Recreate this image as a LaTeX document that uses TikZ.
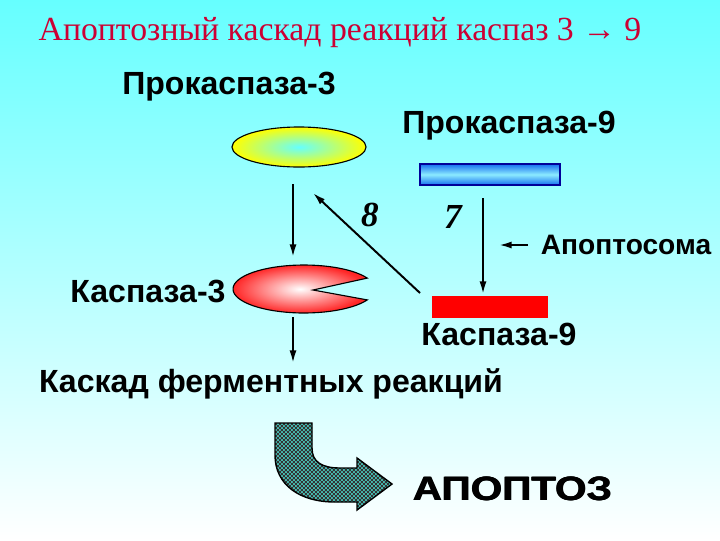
\documentclass[tikz,border=0pt]{standalone}
\usepackage{fontspec}
\setmainfont{Liberation Serif}
\setsansfont{Liberation Sans}
\newfontfamily\blackfont[FakeStretch=1.2]{Liberation Sans}
\usetikzlibrary{arrows.meta,shapes.geometric,patterns,positioning}

\definecolor{titlered}{RGB}{204,0,51}
\definecolor{bgcyan}{RGB}{102,255,255}
\definecolor{bluedark}{RGB}{20,110,240}
\definecolor{bluelight}{RGB}{140,235,255}
\definecolor{arrteal}{RGB}{70,185,175}

\pgfdeclarepatternformonly{finecheck}{\pgfqpoint{0pt}{0pt}}{\pgfqpoint{2.8pt}{2.8pt}}{\pgfqpoint{2.8pt}{2.8pt}}{
  \pgfpathrectangle{\pgfqpoint{0pt}{0pt}}{\pgfqpoint{1.4pt}{1.4pt}}
  \pgfpathrectangle{\pgfqpoint{1.4pt}{1.4pt}}{\pgfqpoint{1.4pt}{1.4pt}}
  \pgfusepath{fill}
}

\newcommand{\heavytext}[1]{\rlap{\kern0.7pt #1}\rlap{\kern0.35pt #1}#1}

\tikzset{
  lbl/.style={font=\sffamily\bfseries\fontsize{22.8}{26}\selectfont, inner sep=0pt},
  num/.style={font=\bfseries\itshape\fontsize{25}{28}\selectfont, inner sep=0pt},
  arr/.style={-{Latex[length=9pt,width=5pt]}, line width=1.4pt},
}

\begin{document}
\begin{tikzpicture}[x=0.025cm,y=-0.025cm]
  \shade[top color=bgcyan, bottom color=white] (0,0) rectangle (720,540);
  \useasboundingbox (0,0) rectangle (720,540);

  % title
  \node[titlered, font=\fontsize{24}{28}\selectfont, inner sep=0pt] (title) at (340,33)
    {Апоптозный каскад реакций каспаз 3 → 9};

  % proteins
  \node[ellipse, draw, line width=0.8pt, minimum width=3.35cm, minimum height=1cm,
        inner color=cyan!60, outer color=yellow] (pro3) at (299,147) {};
  \node[draw=blue!60!black, line width=0.8pt, minimum width=3.5cm, minimum height=0.525cm,
        top color=bluedark, bottom color=bluedark, middle color=bluelight] (pro9) at (490,174.5) {};
  \node[fill=red, inner sep=0pt, minimum width=2.875cm, minimum height=0.55cm] (casp9) at (490,307) {};
  \shade[inner color=white, outer color=red!85, draw=black, line width=0.8pt]
    (313,290) -- plot[domain=27:333, samples=60] ({304+71*cos(\x)},{289+24*sin(\x)}) -- cycle;
  \coordinate (casp3) at (304,289);

  % labels
  \begin{scope}[every node/.style={lbl}]
    \node (pro3lbl) at (229,87)  {Прокаспаза-3};
    \node (pro9lbl) at (509,126) {Прокаспаза-9};
    \node[font=\sffamily\bfseries\fontsize{20}{24}\selectfont] (apslbl) at (626,245) {Апоптосома};
    \node (c3lbl)   at (148,291) {Каспаза-3};
    \node (c9lbl)   at (499,334) {Каспаза-9};
    \node (cascade) at (271,384) {Каскад ферментных реакций};
  \end{scope}
  \node[num] (n8) at (370,215) {8};
  \node[num] (n7) at (453,217) {7};
  \node[font=\blackfont\bfseries\fontsize{24}{28}\selectfont, inner sep=0pt] (apop) at (512,489)
    {\heavytext{АПОПТОЗ}};

  % arrow ends
  \coordinate (p3out)  at (293,184);
  \coordinate (c3in)   at (293,257);
  \coordinate (c3out)  at (293,317);
  \coordinate (casin)  at (293,363);
  \coordinate (c9back) at (420,293);
  \coordinate (p3back) at (313,193);
  \coordinate (p9out)  at (483,198);
  \coordinate (c9in)   at (483,294);
  \coordinate (apsout) at (528,245);
  \coordinate (apsin)  at (499,245);

  \draw[arr] (p3out)  -- (c3in);
  \draw[arr] (c9back) -- (p3back);
  \draw[arr] (p9out)  -- (c9in);
  \draw[arr] (apsout) -- (apsin);
  \draw[arr] (c3out)  -- (casin);

  % block arrow
  \draw[line width=1pt, preaction={fill=arrteal}, pattern=finecheck, pattern color=black!80]
    (275,423) -- (312,423) -- (312,448) .. controls (312,462) and (322,468) .. (340,468)
    -- (357,468) -- (357,458) -- (392,484) -- (357,510) -- (357,502) -- (335,502)
    .. controls (300,502) and (275,485) .. (275,455) -- cycle;
\end{tikzpicture}
\end{document}
